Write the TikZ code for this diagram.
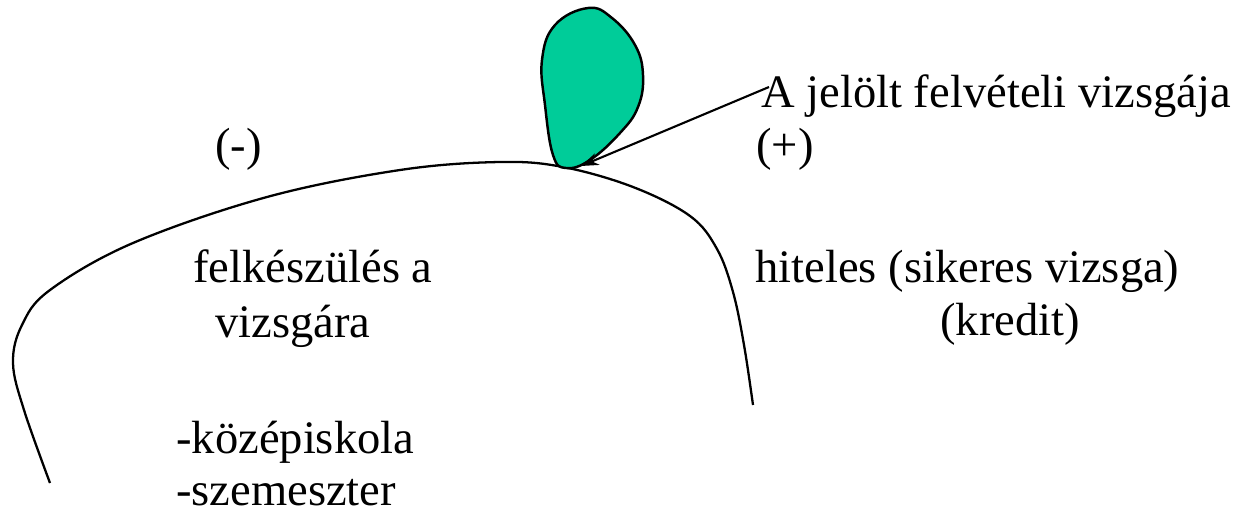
\documentclass[tikz,border=0pt]{standalone}
\usepackage{fontspec}
\setmainfont{Liberation Serif}
\usepackage{tikz}
\usetikzlibrary{arrows.meta,calc}
\definecolor{blobgreen}{RGB}{0,204,153}
\tikzset{lbl/.style={anchor=base west, inner sep=0pt, font=\fontsize{26.5}{30}\selectfont}}

\begin{document}
\begin{tikzpicture}[x=0.02cm, y=-0.02cm]
            \useasboundingbox (0,0) rectangle (1243,514);

            % Curve
            \draw[line width=1.3pt] plot[smooth, tension=0.6] coordinates {(50,483) (24,410) (13,363) (22,325) (50,290) (133,243) (267,197) (400,170) (500,162) (563,167) (633,187) (690,216) (717,249) (733,292) (744,345) (753,405)};

            % Candidate
            \draw[line width=1.4pt, fill=blobgreen] plot[smooth cycle, tension=0.7] coordinates {(588,8) (612,18) (635,45) (643,75) (638,107) (620,133) (590,160) (566,168) (553,155) (545,105) (542,60) (555,25)};
            \coordinate (tip) at (581,166);

            % Labels
            \node[lbl] (minus) at (215,160) {(-)};
            \node[lbl] (cand) at (761,107) {A jelölt felvételi vizsgája};
            \node[lbl] (plus) at (756,160) {(+)};
            \node[lbl] (prep1) at (193,282) {felkészülés a};
            \node[lbl] (prep2) at (215,337) {vizsgára};
            \node[lbl] (src1) at (176,453) {-középiskola};
            \node[lbl] (src2) at (176,505) {-szemeszter};
            \node[lbl] (cred1) at (755,282) {hiteles (sikeres vizsga)};
            \node[lbl] (cred2) at (940,335) {(kredit)};

            \draw[line width=1.2pt, -{Stealth[length=10pt, width=7pt]}] ($(cand.base west)+(8,-20)$) -- (tip);
        \end{tikzpicture}
\end{document}
